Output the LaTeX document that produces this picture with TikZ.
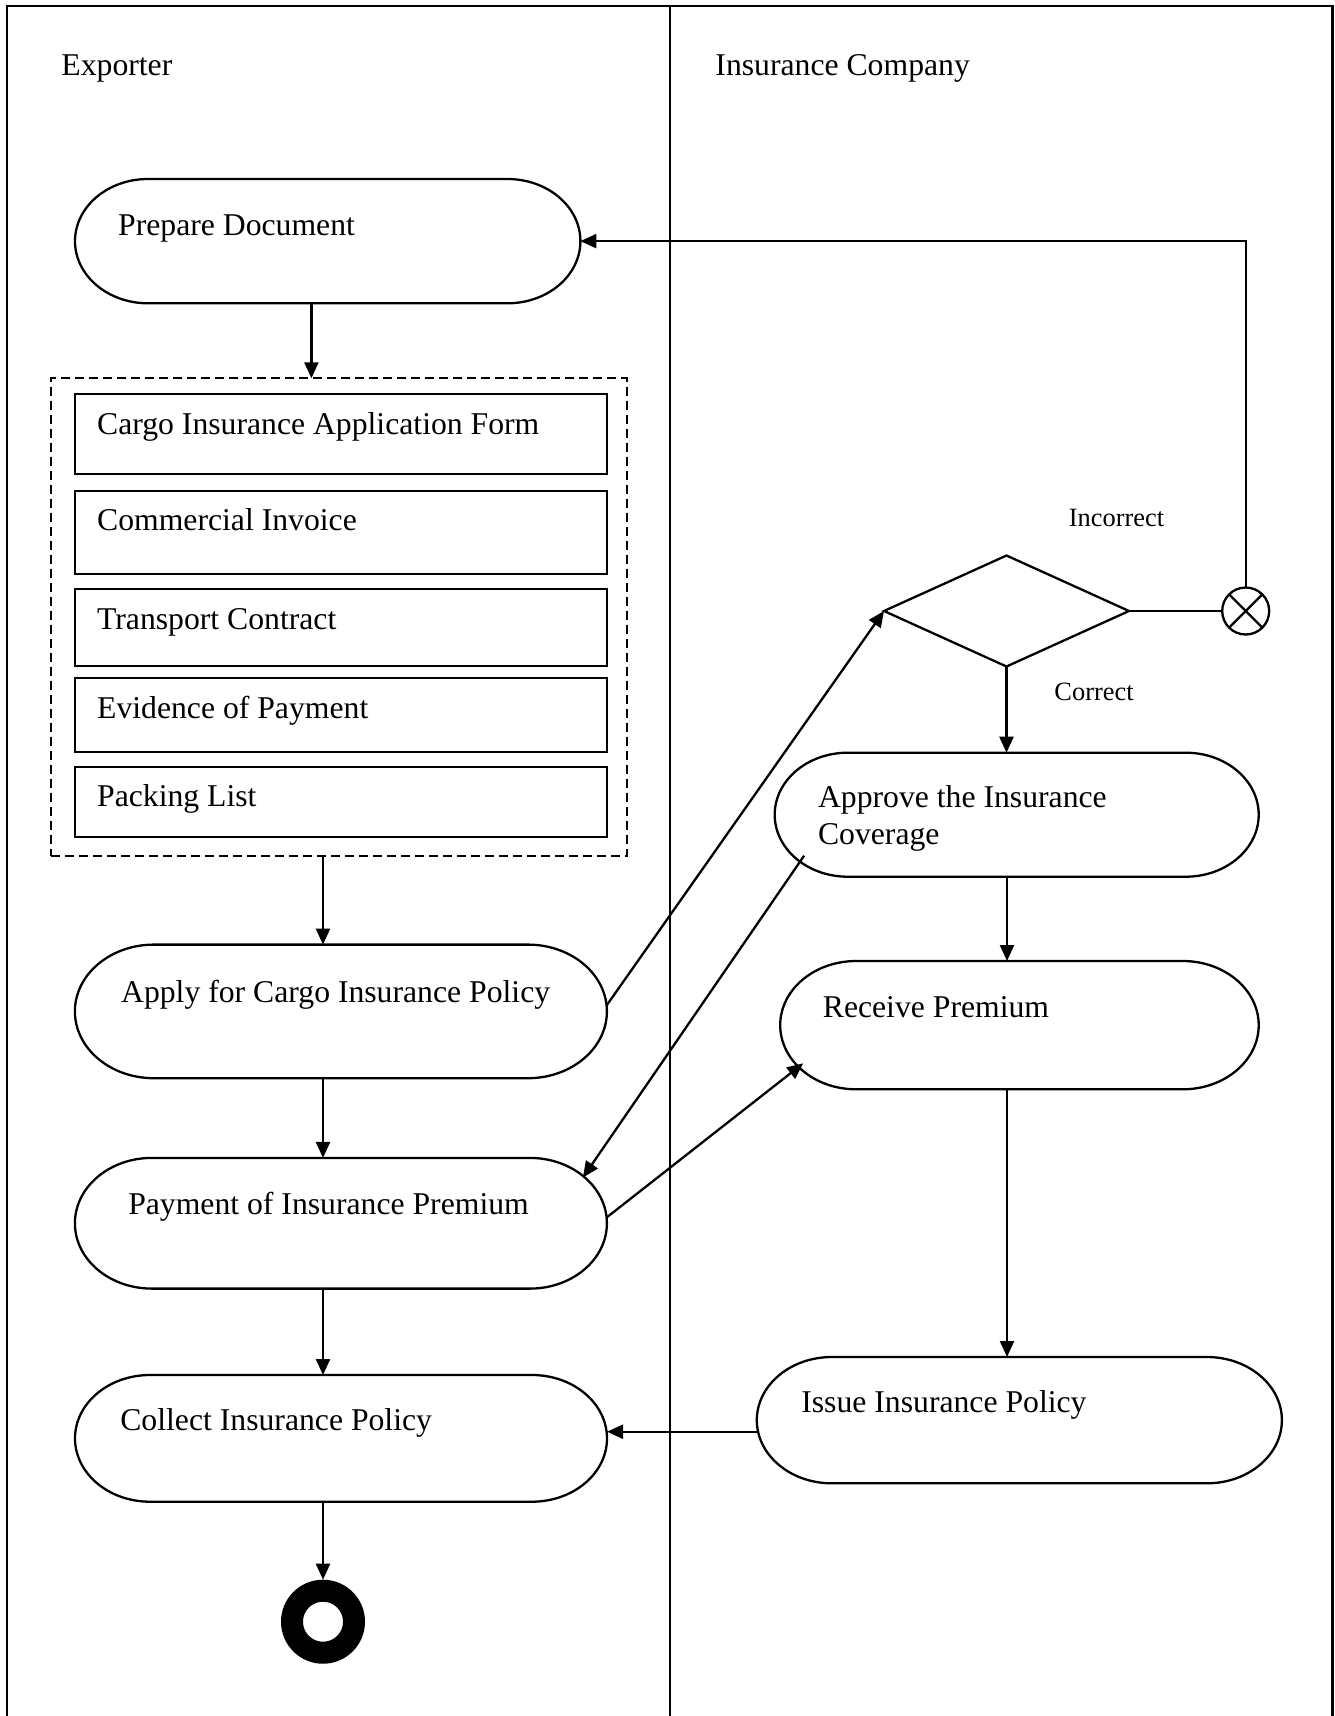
\documentclass[tikz,border=0pt]{standalone}
\usepackage{fontspec}
\setmainfont{Liberation Serif}
\usetikzlibrary{arrows.meta,calc,shapes.geometric}

\tikzset{every picture/.style={line width=2.3pt}}
\tikzset{
  lbl/.style={anchor=base west, inner sep=0pt, align=left, font=\fontsize{31.7pt}{36.3pt}\selectfont},
  small/.style={anchor=base west, inner sep=0pt, font=\fontsize{26.4pt}{30pt}\selectfont},
  act/.style={rectangle, inner sep=0pt, outer sep=0pt},
  docbox/.style={draw, rectangle, inner sep=0pt, outer sep=0pt, minimum width=532pt},
  arr/.style={-{Triangle[length=16pt,width=14pt]}},
}

% capsule outline with elliptic ends round a named node
\newcommand{\capsule}[2]{%
  \draw ($(#1.north west)+(#2,0)$) -- ($(#1.north east)+(-#2,0)$)
    .. controls ($(#1.north east)+({-0.4477*#2},0)$) and ($(#1.east)!0.5523!(#1.north east)$) .. (#1.east)
    .. controls ($(#1.east)!0.5523!(#1.south east)$) and ($(#1.south east)+({-0.4477*#2},0)$) .. ($(#1.south east)+(-#2,0)$)
    -- ($(#1.south west)+(#2,0)$)
    .. controls ($(#1.south west)+({0.4477*#2},0)$) and ($(#1.west)!0.5523!(#1.south west)$) .. (#1.west)
    .. controls ($(#1.west)!0.5523!(#1.north west)$) and ($(#1.north west)+({0.4477*#2},0)$) .. ($(#1.north west)+(#2,0)$)
    -- cycle;}

\begin{document}
\begin{tikzpicture}[x=1pt,y=1pt,yscale=-1,xscale=1]
\useasboundingbox (0,0) rectangle (1335,1716);

%Swimlanes
\draw (6.7,1716) -- (6.7,5.7) -- (1332.6,5.7) -- (1332.6,1716);
\draw (669.7,5.7) -- (669.7,1716);
\node[lbl] (exporterT) at (60.3,75) {Exporter};
\node[lbl] (insurerT) at (714.3,75) {Insurance Company};

%helper lines for the connectors
\coordinate (px) at (311.4,0);
\coordinate (lx) at (323,0);
\coordinate (rx) at (1007,0);
\coordinate (cy) at (0,1431.7);

%Exporter activities
\node[act, minimum width=505.4pt, minimum height=124.3pt] (prep) at (327.7,241.15) {};
\capsule{prep}{73}
\node[lbl] (prepT) at (117,235) {Prepare Document};

\node[act, minimum width=532pt, minimum height=133.6pt] (apply) at (340.9,1011.4) {};
\capsule{apply}{79}
\node[lbl] (applyT) at (120,1002.5) {Apply for Cargo Insurance Policy};

\node[act, minimum width=532pt, minimum height=130.7pt] (pay) at (340.9,1223.25) {};
\capsule{pay}{77}
\node[lbl] (payT) at (127.1,1214.3) {Payment of Insurance Premium};

\node[act, minimum width=532pt, minimum height=126.7pt] (collect) at (341,1438.35) {};
\capsule{collect}{75}
\node[lbl] (collectT) at (119.2,1430) {Collect Insurance Policy};

\node[circle, draw, line width=22pt, minimum size=62pt, inner sep=0pt, outer sep=11pt] (fin) at (323,1621.7) {};

%Documents
\node[act, draw, dash pattern=on 9pt off 5pt, minimum width=575.8pt, minimum height=477.4pt] (docs) at (339.2,617) {};
\foreach \ya/\yb/\yt/\doctext [count=\i] in {394.3/474/434/Cargo Insurance Application Form,
    490.7/574.3/530.7/Commercial Invoice, 589/665.7/629.3/Transport Contract,
    678/752.3/718.3/Evidence of Payment, 766.7/836.7/806.7/Packing List}
{
  \node[docbox, minimum height={\yb-\ya}] (doc\i) at (340.9,{(\ya+\yb)/2}) {};
  \node[lbl] (docT\i) at (96,\yt) {\doctext};
}

%Insurance Company activities
\node[draw, diamond, minimum width=245pt, minimum height=111pt, inner sep=0pt, outer sep=0pt] (dia) at (1006.5,611) {};
\node[draw, circle, minimum size=47pt, inner sep=0pt, outer sep=0pt] (xo) at (1245.7,611) {};
\draw (xo.45) -- (xo.225) (xo.135) -- (xo.315);
\node[small] (incT) at (1067.7,526) {Incorrect};
\node[small] (corT) at (1053.3,700.7) {Correct};

\node[act, minimum width=484pt, minimum height=124pt] (approve) at (1016.7,814.7) {};
\capsule{approve}{73}
\node[lbl] (approveT) at (816.9,844) {Approve the Insurance\\Coverage};

\node[act, minimum width=478.5pt, minimum height=128.3pt] (receive) at (1019.45,1025.15) {};
\capsule{receive}{76}
\node[lbl] (receiveT) at (821.7,1017.3) {Receive Premium};

\node[act, minimum width=525.1pt, minimum height=126.3pt] (issue) at (1019.35,1420.15) {};
\capsule{issue}{75}
\node[lbl] (issueT) at (800.2,1412.7) {Issue Insurance Policy};

%Connectors
\draw[arr] (prep.south -| px) -- (docs.north -| px);
\draw[arr] (docs.south -| lx) -- (apply.north -| lx);
\draw[arr] (apply.south -| lx) -- (pay.north -| lx);
\draw[arr] (pay.south -| lx) -- (collect.north -| lx);
\draw[arr] (collect.south -| lx) -- (fin.north);

\draw[arr] ($(apply.east)+(0,-6.4)$) -- (dia.west);
\draw (dia.east) -- (xo.west);
\draw[arr] (xo.north) |- (prep.east);
\draw[arr] (dia.south) -- (dia.south |- approve.north);
\draw[arr] (approve.south -| rx) -- (receive.north -| rx);
\draw[arr] (receive.south -| rx) -- (issue.north -| rx);
\draw[arr] ($(approve.south west)+(29.4,-21)$) -- ($(pay.north east)+(-24,19.6)$);
\draw[arr] ($(pay.east)+(0,-6)$) -- ($(receive.south west)+(23,-26)$);
\draw[arr] (issue.west |- cy) -- (collect.east |- cy);

\end{tikzpicture}
\end{document}
